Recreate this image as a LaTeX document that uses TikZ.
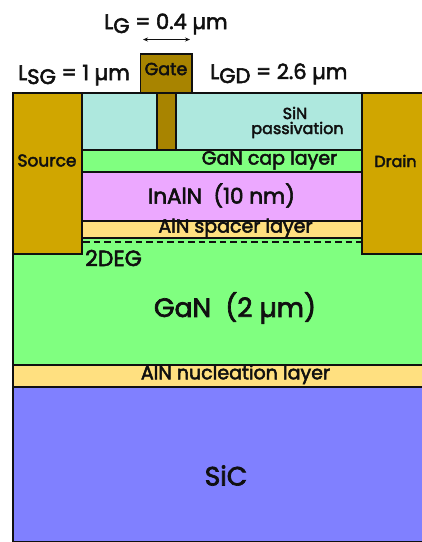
\documentclass[tikz,border=0pt]{standalone}
\usepackage{fontspec}
\setmainfont{Poppins}[FakeBold=2.6]
\usetikzlibrary{arrows.meta}
\definecolor{metal}{HTML}{D0A600}
\definecolor{gatec}{HTML}{A88400}
\definecolor{sinc}{HTML}{AEE8DE}
\definecolor{ganc}{HTML}{80FF80}
\definecolor{inalnc}{HTML}{ECA8FF}
\definecolor{alnc}{HTML}{FFE080}
\definecolor{sicc}{HTML}{8080FF}
\definecolor{inkc}{HTML}{101010}
\tikzset{
  layer/.style={draw=inkc,line width=1.1pt},
  lab/.style={inner sep=0pt,text=inkc,font=\fontsize{#1}{#1}\selectfont},
  lab/.default=16,
}
\begin{document}
\begin{tikzpicture}[x=1pt,y=-1pt]
\useasboundingbox (0,0) rectangle (422,542);
\fill[white] (0,0) rectangle (422,542);
% substrate stack
\draw[layer,fill=sicc] (13,387) -- (13,542) -- (423,542) -- (423,387) -- cycle;
\draw[layer,fill=alnc] (13,365) rectangle (423,387);
\draw[layer,fill=ganc] (13,254) rectangle (423,365);
% device layers
\fill[ganc] (82,238) rectangle (362,256);
\draw[layer,fill=alnc] (82,221) rectangle (362,238);
\draw[layer,fill=inalnc] (82,172) rectangle (362,221);
\draw[layer,fill=ganc] (82,150) rectangle (362,172);
\draw[layer,fill=sinc] (82,93) rectangle (362,150);
\draw[layer,fill=metal] (13,93) rectangle (82,254);
\draw[layer,fill=metal] (362,93) rectangle (423,254);
\draw[layer,fill=gatec] (157,93) rectangle (176,150);
\draw[layer,fill=gatec] (140.5,54) rectangle (192,92.5);
\draw[line width=2.6pt,dash pattern=on 6.5pt off 4pt,draw=inkc] (83,242) -- (362,242);
% labels
\node[lab=17.5] (gate) at (166,69) {Gate};
\node[lab=17] (source) at (47,160.5) {Source};
\node[lab=16] (drain) at (395.5,161) {Drain};
\node[lab=16] (sin1) at (295,113) {SiN};
\node[lab=16] (sin2) at (297.5,130) {passivation};
\node[lab=19] (cap) at (269.5,160) {GaN cap layer};
\node[lab=21.5] (inaln) at (221.5,195.5) {InAlN\ \ (10 nm)};
\node[lab=19] (spacer) at (235.5,228) {AlN spacer layer};
\node[lab=22,anchor=west] (deg) at (85,258) {2DEG};
\node[lab=26.5] (gan) at (235,308) {GaN\ \ (2 µm)};
\node[lab=19] (nuc) at (235.5,374.5) {AlN nucleation layer};
\node[lab=26.5] (sic) at (226,475.5) {SiC};
\node[lab=21,anchor=base west] (lg) at (104,29) {L\raisebox{-4pt}{G} = 0.4 µm};
\node[lab=21,anchor=base west] (lsg) at (18,80) {L\raisebox{-4pt}{SG} = 1 µm};
\node[lab=21,anchor=base west] (lgd) at (210,79) {L\raisebox{-4pt}{GD} = 2.6 µm};
\coordinate (al) at (143,39.5);
\coordinate (ar) at (190,39.5);
\draw[{Stealth[length=5pt,width=4pt]}-{Stealth[length=5pt,width=4pt]},line width=0.7pt,draw=inkc] (al) -- (ar);
\end{tikzpicture}
\end{document}
